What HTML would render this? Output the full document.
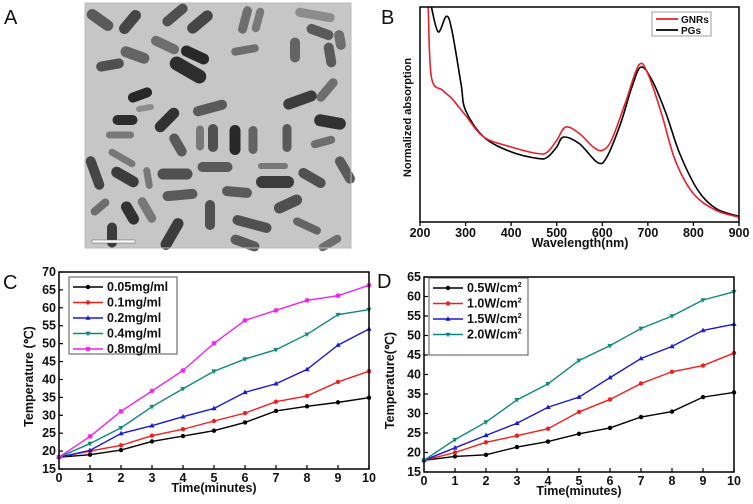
<!DOCTYPE html>
<html><head><meta charset="utf-8"><style>
html,body{margin:0;padding:0;background:#fff;}
svg{display:block;font-family:"Liberation Sans",Arial,sans-serif;}
.t{font-weight:bold;font-size:12.5px;fill:#111;}
.l{font-weight:bold;font-size:12.5px;fill:#111;}
.p{font-size:20px;fill:#111;}
</style></head><body>
<svg id="fig" width="753" height="504" viewBox="0 0 753 504">
<text class="p" x="4" y="24">A</text>
<text class="p" x="381" y="24">B</text>
<text class="p" x="3" y="289">C</text>
<text class="p" x="377" y="288">D</text>
<g id="tem">
<rect x="85" y="3" width="266" height="245" fill="#c6c6c6"/>
</g>
<g id="pb"></g>
<g id="pc"></g>
<g id="pd"></g>
</svg>
<script>
// ---- Panel B data ----
const gnrWl=[218,225,250,270,300,340,400,460,480,500,520,550,580,600,620,650,680,700,730,760,800,850,900];
const gnrAbs=[1.0,0.674,0.612,0.574,0.496,0.395,0.349,0.318,0.326,0.380,0.442,0.411,0.349,0.333,0.380,0.550,0.729,0.690,0.504,0.287,0.132,0.054,0.023];
const pgWl=[225,240,258,270,290,300,340,400,460,480,500,515,550,590,610,640,665,685,710,740,770,810,850,900];
const pgAbs=[1.0,0.884,0.957,0.891,0.643,0.519,0.395,0.326,0.295,0.302,0.349,0.395,0.364,0.276,0.302,0.457,0.628,0.721,0.656,0.504,0.318,0.147,0.062,0.026];
const bTicks=[200,300,400,500,600,700,800,900];
// ---- Panel C data ----
const timeMin=[0,1,2,3,4,5,6,7,8,9,10];
const cLabels=["0.05mg/ml","0.1mg/ml","0.2mg/ml","0.4mg/ml","0.8mg/ml"];
const c005=[18.3,19,20.3,22.7,24.2,25.7,28,31.2,32.5,33.6,34.9];
const c01=[18.3,20,21.6,24.3,26.1,28.4,30.6,33.8,35.4,39.3,42.3];
const c02=[18.3,20.2,24.9,27.1,29.6,31.9,36.4,38.8,42.8,49.6,54.1];
const c04=[18.3,22.1,26.5,32.4,37.4,42.3,45.7,48.3,52.6,58.1,59.5];
const c08=[18.3,24.1,31.1,36.8,42.5,50.1,56.5,59.3,62.1,63.4,66.3];
const cYTicks=[15,20,25,30,35,40,45,50,55,60,65,70];
// ---- Panel D data ----
const dLabels=["0.5W/cm","1.0W/cm","1.5W/cm","2.0W/cm"];
const d05=[18,19,19.4,21.4,22.8,24.8,26.3,29.1,30.5,34.2,35.4];
const d10=[18,20,22.6,24.3,26.1,30.4,33.6,37.7,40.7,42.3,45.5];
const d15=[18,21.2,24.4,27.5,31.6,34.2,39.2,44.1,47.2,51.3,52.9];
const d20=[18,23.3,27.8,33.5,37.6,43.6,47.4,51.8,55,59.1,61.2];
const dYTicks=[15,20,25,30,35,40,45,50,55,60,65];
const xTicks=[0,1,2,3,4,5,6,7,8,9,10];

const NS="http://www.w3.org/2000/svg";
function mk(parent,tag,attrs,text){const e=document.createElementNS(NS,tag);for(const k in attrs)e.setAttribute(k,attrs[k]);if(text!==undefined)e.textContent=text;parent.appendChild(e);return e;}
function lin(d0,d1,r0,r1){return v=>r0+(v-d0)*(r1-r0)/(d1-d0);}

// ---- TEM rods ----
(function(){
const g=document.getElementById('tem');
const rods=[[100,20,30,11,35,90],[130,22,28,11,-50,70],[175,15,30,10,-40,80],[200,22,30,11,-40,70],[245,20,28,9,-75,110],[258,20,25,8,-75,120],[315,15,40,9,10,140],[320,32,28,10,20,90],[110,65,28,10,-10,80],[135,55,30,11,20,100],[165,45,30,10,25,110],[195,55,30,11,25,40],[188,70,40,14,30,45],[245,50,28,8,-10,110],[295,50,25,10,90,100],[330,55,25,10,80,90],[340,40,20,10,80,110],[140,95,25,10,-20,40],[145,108,18,6,-10,140],[210,108,35,10,-15,90],[300,100,35,11,-20,60],[327,90,28,9,-50,110],[125,120,25,10,0,45],[167,120,30,11,-45,50],[200,138,25,8,90,120],[213,138,28,10,90,80],[235,140,30,11,90,40],[253,140,28,9,90,100],[287,138,28,9,90,90],[323,142,25,8,-15,110],[330,122,32,12,10,50],[120,135,28,7,0,120],[178,145,25,10,60,90],[122,158,30,7,30,120],[95,173,35,10,70,70],[125,177,30,11,30,60],[148,178,22,7,80,120],[175,174,35,11,0,80],[215,167,35,10,0,90],[273,166,30,6,0,120],[275,182,38,12,0,60],[312,178,30,10,30,80],[345,170,30,10,60,90],[180,195,35,10,-5,90],[237,192,30,10,5,90],[288,204,30,11,-25,80],[100,207,22,8,-40,110],[130,213,25,11,60,50],[147,210,28,9,60,120],[210,215,30,10,90,80],[252,224,40,10,15,80],[307,226,30,8,25,100],[112,235,25,10,90,60],[172,234,35,11,-60,60],[245,243,30,10,20,90],[330,243,25,8,-30,110]];
rods.forEach(r=>{const e=mk(g,'rect',{x:r[0]-r[2]/2,y:r[1]-r[3]/2,width:r[2],height:r[3],rx:r[3]/2,fill:`rgb(${r[5]},${r[5]},${r[5]})`,transform:`rotate(${r[4]} ${r[0]} ${r[1]})`});

});
mk(g,'rect',{x:85,y:3,width:266,height:245,fill:'none',stroke:'#bbb','stroke-width':1});
const sb=mk(g,'rect',{x:92,y:240,width:43,height:3,fill:'#fff',stroke:'#555','stroke-width':0.5});


})();

function smoothPath(pts){let d=`M${pts[0][0]},${pts[0][1]}`;for(let i=0;i<pts.length-1;i++){const p0=pts[Math.max(0,i-1)],p1=pts[i],p2=pts[i+1],p3=pts[Math.min(pts.length-1,i+2)];
const c1=[p1[0]+(p2[0]-p0[0])/6,p1[1]+(p2[1]-p0[1])/6],c2=[p2[0]-(p3[0]-p1[0])/6,p2[1]-(p3[1]-p1[1])/6];d+=` C${c1[0]},${c1[1]} ${c2[0]},${c2[1]} ${p2[0]},${p2[1]}`;}return d;}

// ---- Panel B ----
(function(){
const g=document.getElementById('pb');
const L=420,R=739,T=7,B=222;
const x=lin(200,900,L,R),y=lin(0,1,B,T);
bTicks.forEach(t=>{mk(g,'line',{x1:x(t),x2:x(t),y1:B,y2:B+4,stroke:'#000','stroke-width':1.3});
const e=mk(g,'text',{class:'t',x:x(t),y:B+15,'text-anchor':'middle'},t);

});
const xt=mk(g,'text',{class:'t',x:580,y:247,'text-anchor':'middle'},'Wavelength(nm)');


const yt=mk(g,'text',{class:'t',x:0,y:0,'text-anchor':'middle',transform:`translate(411,${(T+B)/2+3}) rotate(-90)`,style:'font-size:11px'},'Normalized absorption');


const pg=mk(g,'path',{d:smoothPath(pgWl.map((w,i)=>[x(w),y(pgAbs[i])])),fill:'none',stroke:'#000','stroke-width':1.6});


const gn=mk(g,'path',{d:smoothPath(gnrWl.map((w,i)=>[x(w),y(gnrAbs[i])])),fill:'none',stroke:'#e8202a','stroke-width':1.6});


mk(g,'rect',{x:L,y:T,width:R-L,height:B-T,fill:'none',stroke:'#000','stroke-width':1.5});
const lg=mk(g,'g',{});


mk(lg,'rect',{x:652,y:12,width:59,height:24,fill:'#fff',stroke:'#888','stroke-width':0.8});
mk(lg,'line',{x1:656,x2:678,y1:19,y2:19,stroke:'#e8202a','stroke-width':1.8});
mk(lg,'line',{x1:656,x2:678,y1:30,y2:30,stroke:'#000','stroke-width':1.8});
mk(lg,'text',{class:'t',x:681,y:23,style:'font-size:10px'},'GNRs');
mk(lg,'text',{class:'t',x:681,y:34,style:'font-size:10px'},'PGs');
})();

function marker(g,type,cx,cy,col){
 let e;
 if(type==='c') e=mk(g,'circle',{cx,cy,r:2.2,fill:col});
 else if(type==='u') e=mk(g,'path',{d:`M${cx},${cy-2.8}L${cx+2.6},${cy+1.8}L${cx-2.6},${cy+1.8}Z`,fill:col});
 else if(type==='d') e=mk(g,'path',{d:`M${cx},${cy+2.8}L${cx+2.6},${cy-1.8}L${cx-2.6},${cy-1.8}Z`,fill:col});
 else e=mk(g,'path',{d:`M${cx-2.5},${cy}L${cx+2.5},${cy}M${cx},${cy-2.5}L${cx},${cy+2.5}M${cx-1.8},${cy-1.8}L${cx+1.8},${cy+1.8}M${cx+1.8},${cy-1.8}L${cx-1.8},${cy+1.8}`,stroke:col,'stroke-width':1.2});
 
 
}

function tempChart(id,L,R,T,B,ymin,ymax,yTicks,series,labels,cols,marks,leg,supers,ytitle,ytx){
 const g=document.getElementById(id);
 const x=lin(0,10,L,R),y=lin(ymin,ymax,B,T);
 xTicks.forEach(t=>{mk(g,'line',{x1:x(t),x2:x(t),y1:B,y2:B-4,stroke:'#000','stroke-width':1.2});
  const e=mk(g,'text',{class:'t',x:x(t),y:B+13,'text-anchor':'middle'},t);
  
  });
 yTicks.forEach(t=>{mk(g,'line',{x1:L,x2:L+4,y1:y(t),y2:y(t),stroke:'#000','stroke-width':1.2});
  const e=mk(g,'text',{class:'t',x:L-3,y:y(t)+4,'text-anchor':'end'},t);
  
  });
 const xt=mk(g,'text',{class:'t',x:(L+R)/2,y:B+23,'text-anchor':'middle'},'Time(minutes)');
 
 
 const yt=mk(g,'text',{class:'t',x:0,y:0,'text-anchor':'middle',transform:`translate(${ytx},${(T+B)/2+6}) rotate(-90)`},ytitle);
 
 
 series.forEach((s,i)=>{
  const p=mk(g,'polyline',{points:s.map((v,j)=>x(timeMin[j])+','+y(v)).join(' '),fill:'none',stroke:cols[i],'stroke-width':1.4});
  
  
  s.forEach((v,j)=>marker(g,marks[i],x(timeMin[j]),y(v),cols[i]));
 });
 mk(g,'rect',{x:L,y:T,width:R-L,height:B-T,fill:'none',stroke:'#000','stroke-width':1.5});
 const lg=mk(g,'g',{});
 
 
 mk(lg,'rect',{x:leg[0],y:leg[1],width:leg[2],height:leg[3],fill:'#fff',stroke:'#555','stroke-width':1});
 labels.forEach((lb,i)=>{const yy=leg[1]+10+i*15.5;
  mk(lg,'line',{x1:leg[0]+4,x2:leg[0]+34,y1:yy,y2:yy,stroke:cols[i],'stroke-width':1.6});
  marker(lg,marks[i],leg[0]+19,yy,cols[i]);
  const t=mk(lg,'text',{class:'l',x:leg[0]+38,y:yy+4},lb);
  
  
  if(supers) mk(t,'tspan',{dy:-5,style:'font-size:7px'},'2');
 });
}
tempChart('pc',59,369,272,469,15,70,cYTicks,[c005,c01,c02,c04,c08],cLabels,['#000','#ee2020','#1a1ad0','#0e8a7a','#ee22ee'],['c','c','u','d','s'],[69,277,108,77],false,'Temperature (℃)',33);
tempChart('pd',424,734,277,472,15,65,dYTicks,[d05,d10,d15,d20],dLabels,['#000','#ee2020','#1a1ad0','#0e8a7a'],['c','c','u','d'],[429,278,99,77],true,'Temperature(℃)',394);
</script>
</body></html>
